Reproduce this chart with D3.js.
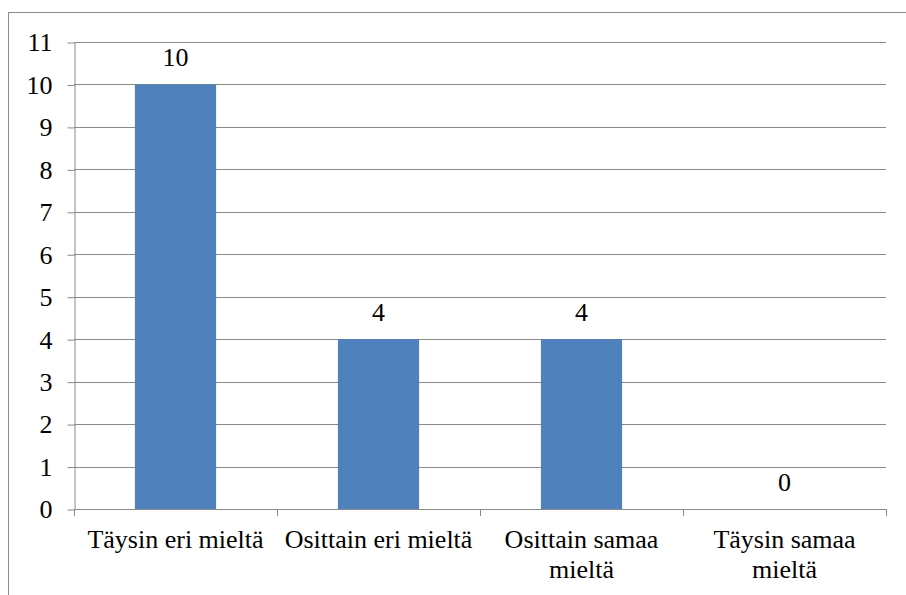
<!DOCTYPE html>
<html>
<head>
<meta charset="utf-8">
<script src="https://cdn.jsdelivr.net/npm/d3@7"></script>
</head>
<body style="margin:0">
<svg id="chart" width="906" height="595" style="display:block"></svg>
<script>
// Responses per answer option
const options = [["Täysin eri mieltä"], ["Osittain eri mieltä"], ["Osittain samaa", "mieltä"], ["Täysin samaa", "mieltä"]];
const counts = [10, 4, 4, 0];
const tickValues = [0, 1, 2, 3, 4, 5, 6, 7, 8, 9, 10, 11];

const svg = d3.select("#chart");
const W = 906, H = 595;
const plot = { left: 74, right: 886, top: 42, bottom: 509 };
const gridColor = "#8a8a8a";
const barColor = "#4f81bd";
const textFont = '"Liberation Serif", "Times New Roman", Tinos, serif';
const textSize = "26px";

// Chart frame
svg.append("rect")
  .attr("x", 8.5).attr("y", 12.5)
  .attr("width", W + 10).attr("height", H + 10)
  .attr("fill", "none").attr("stroke", gridColor);

const x = d3.scaleBand()
  .domain(d3.range(options.length))
  .range([plot.left, plot.right])
  .paddingInner(0.6).paddingOuter(0.3);
const xGroup = d3.scaleBand()
  .domain(d3.range(options.length))
  .range([plot.left, plot.right]);
const y = d3.scaleLinear().domain([0, 11]).range([plot.bottom, plot.top]);

// Horizontal gridlines
svg.append("g").selectAll("line").data(tickValues.filter(d => d > 0)).join("line")
  .attr("x1", plot.left).attr("x2", plot.right)
  .attr("y1", d => Math.round(y(d)) + 0.5).attr("y2", d => Math.round(y(d)) + 0.5)
  .attr("stroke", gridColor);

// Bars
svg.append("g").selectAll("rect").data(counts).join("rect")
  .attr("x", (d, i) => x(i))
  .attr("width", x.bandwidth())
  .attr("y", d => y(d))
  .attr("height", d => y(0) - y(d))
  .attr("fill", barColor);

// Y axis
const gy = svg.append("g")
  .attr("transform", `translate(${plot.left + 0.5},0.5)`)
  .call(d3.axisLeft(y).tickValues(tickValues).tickSize(7).tickPadding(15).tickSizeOuter(0));
gy.attr("font-family", null).attr("font-size", null);
gy.select(".domain").attr("stroke", gridColor);
gy.selectAll(".tick line").attr("stroke", gridColor);
gy.selectAll(".tick text").attr("fill", "#000")
  .style("font-family", textFont).style("font-size", textSize);

// X axis line with ticks between groups
svg.append("line")
  .attr("x1", plot.left).attr("x2", plot.right)
  .attr("y1", plot.bottom + 0.5).attr("y2", plot.bottom + 0.5)
  .attr("stroke", gridColor);
const edges = d3.range(options.length + 1).map(i => i < options.length ? xGroup(i) : plot.right);
svg.append("g").selectAll("line").data(edges).join("line")
  .attr("x1", d => Math.round(d) + 0.5).attr("x2", d => Math.round(d) + 0.5)
  .attr("y1", plot.bottom).attr("y2", plot.bottom + 7)
  .attr("stroke", gridColor);

// Option labels
const optLabels = svg.append("g").selectAll("text").data(options).join("text")
  .style("font-family", textFont).style("font-size", textSize)
  .attr("text-anchor", "middle")
  .attr("transform", (d, i) => `translate(${xGroup(i) + xGroup.bandwidth() / 2},548)`);
optLabels.selectAll("tspan").data(d => d).join("tspan")
  .attr("x", 0).attr("y", (d, j) => j * 30)
  .text(d => d);

// Count labels above bars
svg.append("g").selectAll("text").data(counts).join("text")
  .style("font-family", textFont).style("font-size", textSize)
  .attr("text-anchor", "middle")
  .attr("x", (d, i) => x(i) + x.bandwidth() / 2)
  .attr("y", d => y(d) - 18)
  .text(d => d);
</script>
</body>
</html>
